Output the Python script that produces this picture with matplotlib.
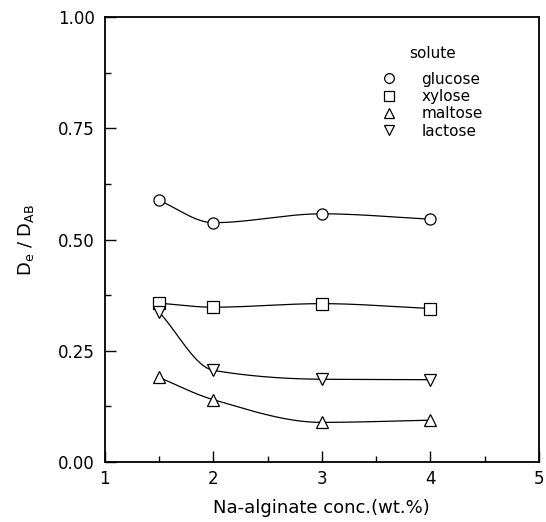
import matplotlib
matplotlib.use("Agg")
import matplotlib.pyplot as plt
import numpy as np

plt.rcParams['font.family'] = ['DejaVu Sans']
plt.rcParams['mathtext.default'] = 'regular'

conc = [1.5, 2.0, 3.0, 4.0]
glucose = [0.588, 0.538, 0.558, 0.546]
xylose = [0.357, 0.348, 0.356, 0.345]
maltose = [0.190, 0.140, 0.089, 0.094]
lactose = [0.337, 0.206, 0.186, 0.185]

series = [("glucose", glucose, "o"), ("xylose", xylose, "s"),
          ("maltose", maltose, "^"), ("lactose", lactose, "v")]


def smooth_curve(x, y, n=200):
    # monotone cubic (Fritsch-Carlson) so the drawn curve doesn't overshoot
    x = np.asarray(x, float)
    y = np.asarray(y, float)
    h = np.diff(x)
    delta = np.diff(y) / h
    k = len(x)
    m = np.zeros(k)
    m[0], m[-1] = delta[0], delta[-1]
    for i in range(1, k - 1):
        if delta[i - 1] * delta[i] > 0:
            w1 = 2 * h[i] + h[i - 1]
            w2 = h[i] + 2 * h[i - 1]
            m[i] = (w1 + w2) / (w1 / delta[i - 1] + w2 / delta[i])
    xs = np.linspace(x[0], x[-1], n)
    ys = np.empty_like(xs)
    for j, xv in enumerate(xs):
        i = min(np.searchsorted(x, xv, side="right") - 1, k - 2)
        t = (xv - x[i]) / h[i]
        h00 = 2 * t**3 - 3 * t**2 + 1
        h10 = t**3 - 2 * t**2 + t
        h01 = -2 * t**3 + 3 * t**2
        h11 = t**3 - t**2
        ys[j] = h00 * y[i] + h10 * h[i] * m[i] + h01 * y[i + 1] + h11 * h[i] * m[i + 1]
    return xs, ys


fig = plt.figure(figsize=(5.46, 5.22), dpi=100)
ax = fig.add_axes([0.192, 0.115, 0.795, 0.852])

handles = []
for name, vals, m in series:
    xs, ys = smooth_curve(conc, vals)
    ax.plot(xs, ys, color="black", lw=0.9)
    ax.plot(conc, vals, linestyle="none", marker=m, markersize=8,
            markerfacecolor="white", markeredgecolor="black", markeredgewidth=0.9)
    h, = ax.plot([], [], linestyle="none", marker=m, markersize=7,
                 markerfacecolor="white", markeredgecolor="black",
                 markeredgewidth=0.9, label=name)
    handles.append(h)

ax.set_xlim(1, 5)
ax.set_ylim(0, 1)
ax.set_xticks([1, 2, 3, 4, 5])
ax.set_xticks(np.arange(1, 5.01, 0.5), minor=True)
ax.set_yticks([0, 0.25, 0.5, 0.75, 1.0])
ax.set_yticklabels(["0.00", "0.25", "0.50", "0.75", "1.00"])
ax.set_yticks(np.arange(0, 1.01, 0.125), minor=True)
ax.tick_params(direction="in", which="major", length=8, width=1, labelsize=12)
ax.tick_params(direction="in", which="minor", length=4, width=1)
ax.tick_params(axis="y", pad=7)
ax.tick_params(axis="x", pad=6)
for s in ax.spines.values():
    s.set_linewidth(1.3)

ax.set_xlabel("Na-alginate conc.(wt.%)", fontsize=13, labelpad=8)
ax.set_ylabel("D$_e$ / D$_{AB}$", fontsize=13, labelpad=16)

leg = ax.legend(handles=handles, title="solute", loc="upper left",
                bbox_to_anchor=(0.624, 0.95), frameon=False, fontsize=11,
                title_fontsize=11, handlelength=1.0, handletextpad=1.6,
                labelspacing=0.15, borderaxespad=0)
leg._legend_box.sep = 8

fig.savefig("out.png", dpi=100)
